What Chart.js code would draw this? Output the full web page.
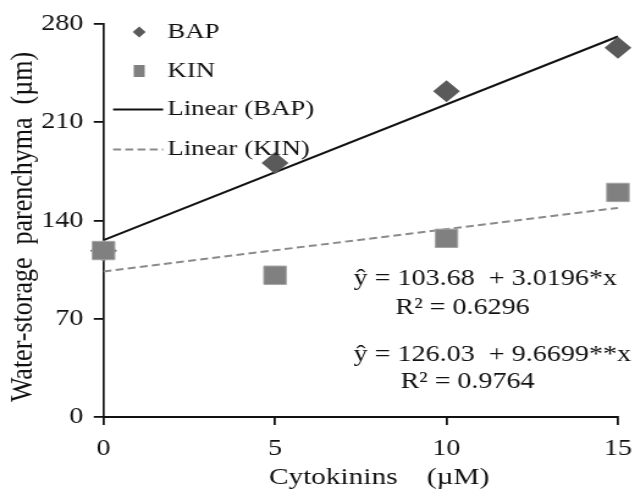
<!DOCTYPE html>
<html>
<head>
<meta charset="utf-8">
<script src="https://cdn.jsdelivr.net/npm/chart.js@4/dist/chart.umd.min.js"></script>
<style>
    html, body { margin: 0; padding: 0; background: #fff; overflow: hidden; }
    /* the original figure is a little stretched sideways, so draw narrow and scale x */
    #wrap { width: 520px; height: 489px; transform: scaleX(1.2212); transform-origin: 0 0; }
</style>
</head>
<body>
<div id="wrap"><canvas id="chart"></canvas></div>
<script>
    // cytokinin doses (µM)
    const doses = [0, 5, 10, 15];
    // water-storage parenchyma (µm)
    const bapValues = [118.5, 181, 232, 263];
    const kinValues = [118.6, 101, 127.3, 160];
    // trend line ends at dose 0 and 15 (from the printed equations)
    const trendDoses = [0, 15];
    const bapTrend = [126.03, 271.08];
    const kinTrend = [103.68, 148.97];
    const yTicks = [0, 70, 140, 210, 280];
    const xTicks = [0, 5, 10, 15];

    const equations = [
        ['ŷ = 103.68  + 3.0196*x', 289.5, 279],
        ['R² = 0.6296', 323.8, 308],
        ['ŷ = 126.03  + 9.6699**x', 289.5, 355],
        ['R² = 0.9764', 327.9, 381.5]
    ];

    const serif = "'Liberation Serif', 'Times New Roman', serif";
    Chart.defaults.font.family = serif;
    Chart.defaults.color = '#111';

    const toPoints = (xs, ys) => xs.map((x, i) => ({x: x, y: ys[i]}));

    // legend + regression text, drawn inside the plot like the original
    const notesPlugin = {
        id: 'notes',
        afterDatasetsDraw(chart) {
            const ctx = chart.ctx;
            const rows = [32, 71, 109.5, 149.5];
            ctx.save();
            chart.data.datasets.forEach((ds, i) => {
                const y = rows[i];
                if (ds.type === 'line') {
                    ctx.strokeStyle = ds.borderColor;
                    ctx.lineWidth = ds.borderWidth;
                    ctx.setLineDash(ds.borderDash || []);
                    ctx.beginPath();
                    ctx.moveTo(92.6, y);
                    ctx.lineTo(133.6, y);
                    ctx.stroke();
                    ctx.setLineDash([]);
                } else {
                    ctx.fillStyle = ds.backgroundColor;
                    ctx.beginPath();
                    if (ds.pointStyle === 'rectRot') {
                        ctx.moveTo(114, y - 5.5);
                        ctx.lineTo(119.3, y);
                        ctx.lineTo(114, y + 5.5);
                        ctx.lineTo(108.7, y);
                    } else {
                        ctx.rect(109.5, y - 6, 9, 12);
                    }
                    ctx.closePath();
                    ctx.fill();
                }
                ctx.fillStyle = '#111';
                ctx.font = '22px ' + serif;
                ctx.textAlign = 'left';
                ctx.textBaseline = 'middle';
                ctx.fillText(ds.label, 137, y);
            });

            ctx.font = '23px ' + serif;
            equations.forEach(([text, x, y]) => ctx.fillText(text, x, y));
            ctx.restore();
        }
    };

    new Chart(document.getElementById('chart'), {
        type: 'scatter',
        data: {
            datasets: [{
                label: 'BAP',
                data: toPoints(doses, bapValues),
                pointStyle: 'rectRot',
                pointRadius: 11,
                backgroundColor: '#5a5a5a',
                borderColor: '#5a5a5a',
                borderWidth: 0,
                clip: false,
                order: 1
            }, {
                label: 'KIN',
                data: toPoints(doses, kinValues),
                pointStyle: 'rect',
                pointRadius: 13,
                backgroundColor: '#808080',
                borderColor: '#a5a5a5',
                borderWidth: 1,
                clip: false,
                order: 0
            }, {
                type: 'line',
                label: 'Linear (BAP)',
                data: toPoints(trendDoses, bapTrend),
                borderColor: '#111',
                borderWidth: 2,
                pointRadius: 0,
                clip: false,
                order: 2
            }, {
                type: 'line',
                label: 'Linear (KIN)',
                data: toPoints(trendDoses, kinTrend),
                borderColor: '#8a8a8a',
                borderWidth: 2,
                borderDash: [6.5, 3.5],
                pointRadius: 0,
                clip: false,
                order: 3
            }]
        },
        options: {
            responsive: true,
            maintainAspectRatio: false,
            animation: false,
            layout: {padding: {top: 24, right: 12, left: 0, bottom: 0}},
            plugins: {
                legend: {display: false},
                tooltip: {enabled: false}
            },
            scales: {
                x: {
                    type: 'linear',
                    min: 0,
                    max: 15,
                    afterFit: (scale) => {
                        scale.height = 72;
                        scale.paddingLeft = 0;
                        scale.paddingRight = 0;
                    },
                    afterBuildTicks: (scale) => { scale.ticks = xTicks.map(v => ({value: v})); },
                    ticks: {font: {size: 23}, padding: 10, color: '#111'},
                    grid: {drawOnChartArea: false, drawTicks: true, tickLength: 8, color: '#111', lineWidth: 1.8},
                    border: {display: true, color: '#111', width: 2},
                    title: {display: true, text: '     Cytokinins    (µM)', font: {size: 24}, color: '#111', padding: {top: 0, bottom: -3}}
                },
                y: {
                    min: 0,
                    max: 280,
                    afterFit: (scale) => { scale.width = 84.8; },
                    afterBuildTicks: (scale) => { scale.ticks = yTicks.map(v => ({value: v})); },
                    ticks: {font: {size: 23}, padding: 8.5, color: '#111'},
                    grid: {drawOnChartArea: false, drawTicks: true, tickLength: 8, color: '#111', lineWidth: 1.8},
                    border: {display: true, color: '#111', width: 1.7},
                    title: {display: true, text: 'Water-storage  parenchyma  (µm)  ', font: {size: 26}, color: '#111', padding: {top: 4, bottom: 0}}
                }
            }
        },
        plugins: [notesPlugin]
    });
</script>
</body>
</html>
